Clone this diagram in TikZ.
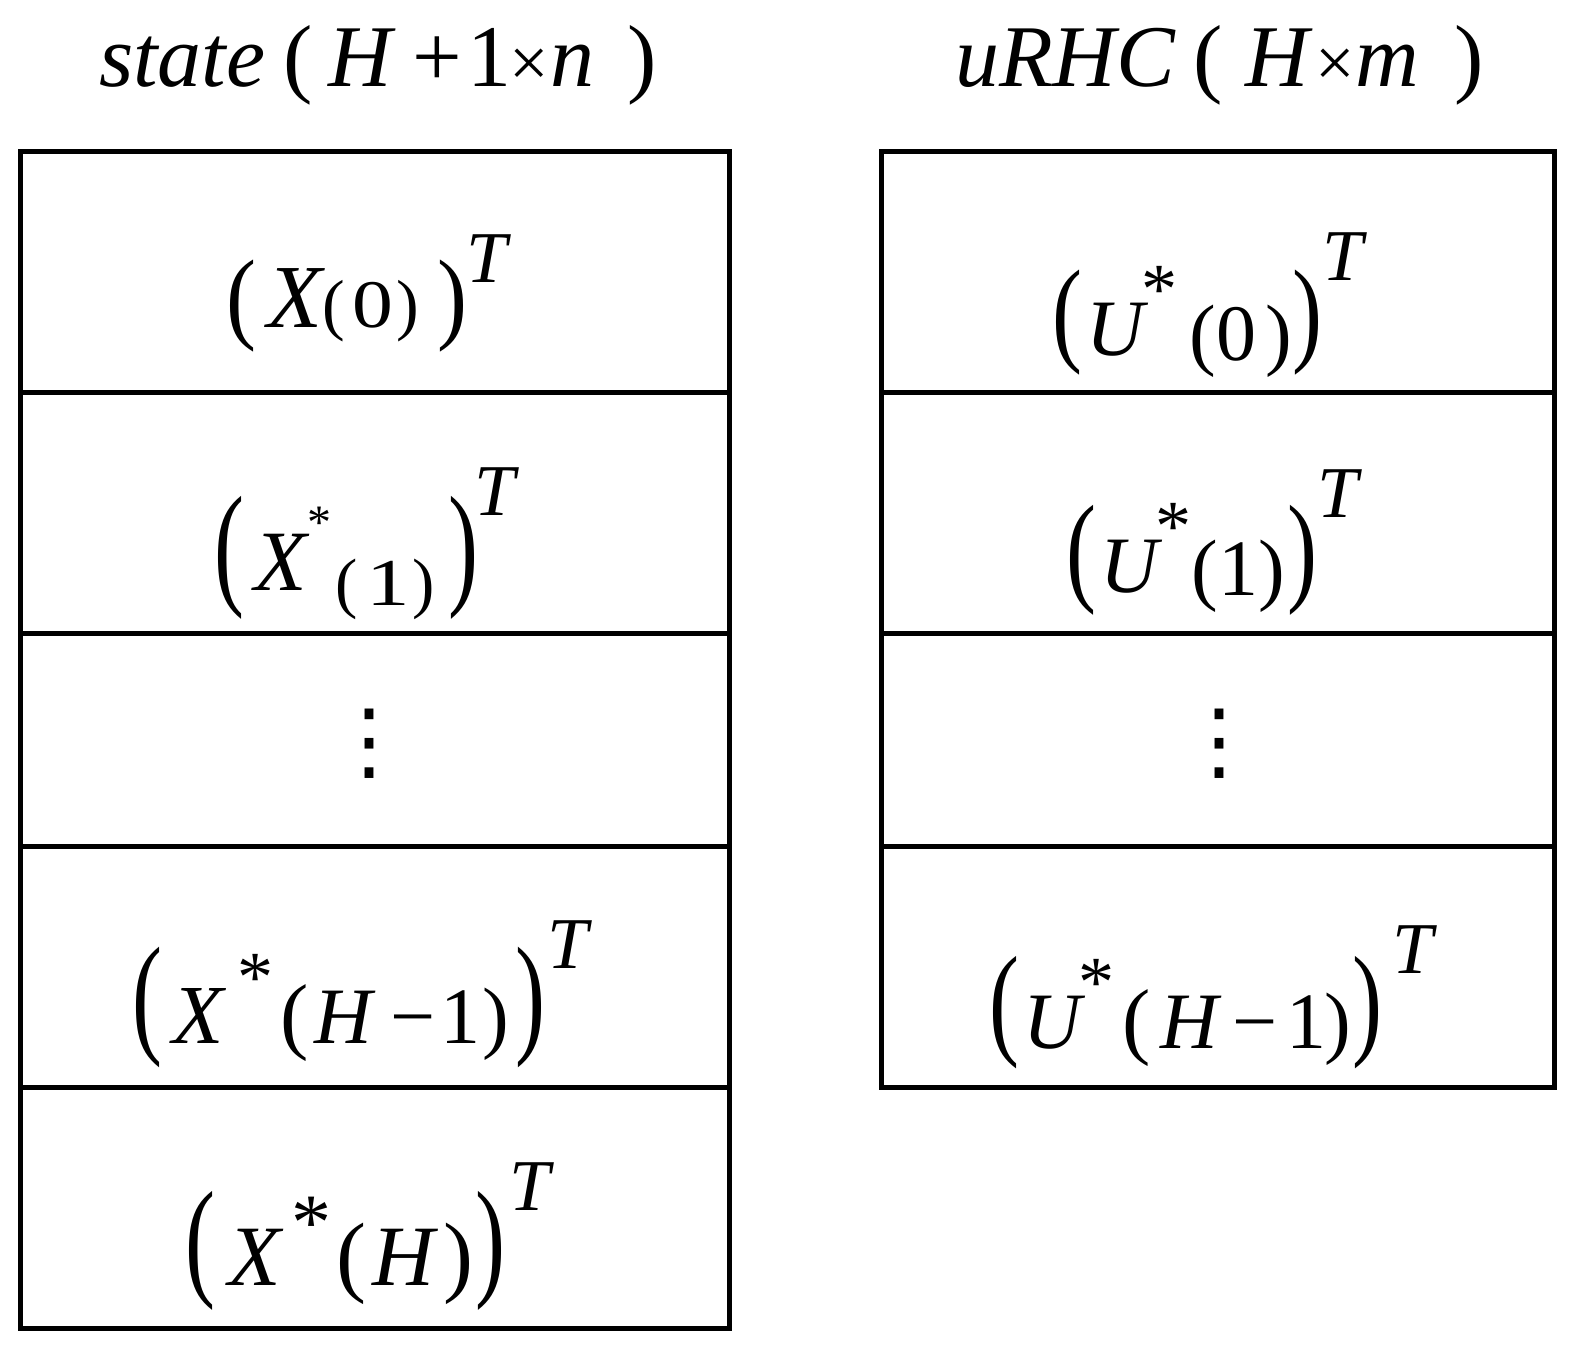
\documentclass[tikz,border=0pt]{standalone}
\usepackage{fontspec}
\setmainfont{Liberation Serif}
\newfontfamily\dejavu{DejaVu Sans}
\newcommand{\fs}[1]{\fontsize{#1pt}{#1pt}\selectfont}
\newcommand{\Bp}[3]{\raisebox{#3}{\scalebox{1}[#2]{\fs{90}#1}}}
\newcommand{\Sx}[3]{\raisebox{#3}{\fs{#2}#1}}
\newcommand{\hs}[2]{\scalebox{#1}[1]{#2}}
\begin{document}
\begin{tikzpicture}[x=1pt,y=-1pt,
  cell/.style={draw, line width=5pt, rectangle, inner sep=0pt},
  lbl/.style={anchor=base west, inner sep=0pt},
  dots/.style={anchor=center, inner sep=0pt, font=\dejavu\fs{86}}]
\useasboundingbox (0,0) rectangle (1580,1349);
% left column cells
\node[cell, minimum width=709pt, minimum height=241pt]   (L1) at (375,272) {};
\node[cell, minimum width=709pt, minimum height=241pt]   (L2) at (375,513) {};
\node[cell, minimum width=709pt, minimum height=212.5pt] (L3) at (375,739.75) {};
\node[cell, minimum width=709pt, minimum height=241.5pt] (L4) at (375,966.75) {};
\node[cell, minimum width=709pt, minimum height=241pt]   (L5) at (375,1208) {};
% right column cells
\node[cell, minimum width=673pt, minimum height=241pt]   (R1) at (1218,272) {};
\node[cell, minimum width=673pt, minimum height=241pt]   (R2) at (1218,513) {};
\node[cell, minimum width=673pt, minimum height=212.5pt] (R3) at (1218,739.75) {};
\node[cell, minimum width=673pt, minimum height=241.5pt] (R4) at (1218,966.75) {};
% titles
\node[lbl] (t1) at (99,86) {\fs{88}{\itshape state}\kern18pt(\kern16pt{\itshape H}\kern20pt+\kern6pt 1\kern-2pt{\fs{70}×}\kern1pt{\itshape n}\kern33pt)};
\node[lbl] (t2) at (955,86) {\fs{88}{\itshape uRHC}\kern18pt(\kern23pt{\itshape H}\kern6pt{\fs{70}×}\kern1pt{\itshape m}\kern35pt)};
% left column texts
\node[lbl] (x0) at (226,327) {\Bp{(}{1.13}{-3.5pt}\kern11.6pt{\fs{90}\itshape X}{\fs{68}(\kern7pt\hs{1.2}{0}\kern3pt)}\kern19pt\Bp{)}{1.13}{-3.5pt}\kern-1.4pt\Sx{\itshape T}{73}{45pt}};
\node[lbl] (x1) at (214,590) {\Bp{(}{1.51}{0pt}\kern10pt{\fs{86}\itshape X}\kern1pt\Sx{*}{48}{52pt}\kern4pt\raisebox{-15pt}{\fs{67}(\kern8pt\hs{1.3}{1}\kern3pt)}\kern14pt\Bp{)}{1.51}{0pt}\kern-4.4pt\Sx{\itshape T}{73}{75pt}};
\node[dots] (xd) at (369,744) {⋮};
\node[lbl] (x4) at (132,1043) {\Bp{(}{1.48}{4pt}\kern10pt{\fs{84}\itshape X}\kern14pt\Sx{*}{72}{42pt}\kern7pt\Sx{(}{85}{0pt}\kern6pt{\fs{80}\itshape H}\kern18pt{\fs{80}−}\kern5pt{\fs{80}1\kern2pt)}\kern6pt\Bp{)}{1.48}{4pt}\kern2pt\Sx{\itshape T}{73}{75pt}};
\node[lbl] (x5) at (185,1285) {\Bp{(}{1.46}{2.5pt}\kern13pt{\fs{86}\itshape X}\kern11pt\Sx{*}{80}{36pt}\kern5pt{\fs{90}(}\kern6pt{\fs{86}\itshape H}\kern9pt{\fs{90})}\kern1.5pt\Bp{)}{1.46}{2.5pt}\kern4pt\Sx{\itshape T}{73}{75pt}};
% right column texts
\node[lbl] (u0) at (1052,355) {\Bp{(}{1.29}{4.5pt}\kern4pt{\fs{80}\itshape U}\kern-2pt\Sx{*}{72}{42pt}\kern12pt\raisebox{-5pt}{\fs{80}(0\kern9pt)}\Bp{)}{1.29}{4.5pt}\Sx{\itshape T}{73}{75pt}};
\node[lbl] (u1) at (1066,592) {\Bp{(}{1.35}{2.5pt}\kern4pt{\fs{80}\itshape U}\kern-2pt\Sx{*}{72}{42pt}\kern0pt\raisebox{-3pt}{\fs{80}(1)}\kern2pt\Bp{)}{1.35}{2.5pt}\Sx{\itshape T}{73}{75pt}};
\node[dots] (ud) at (1219,744) {⋮};
\node[lbl] (u4) at (989,1048) {\Bp{(}{1.38}{6pt}\kern4pt{\fs{80}\itshape U}\kern-2pt\Sx{*}{72}{42pt}\kern8pt\Sx{(}{85}{0pt}\kern9pt{\fs{80}\itshape H}\kern14pt{\fs{80}−}\kern9pt{\fs{80}1\kern-2pt)}\kern2pt\Bp{)}{1.38}{6pt}\kern10pt\Sx{\itshape T}{73}{75pt}};
\end{tikzpicture}
\end{document}
